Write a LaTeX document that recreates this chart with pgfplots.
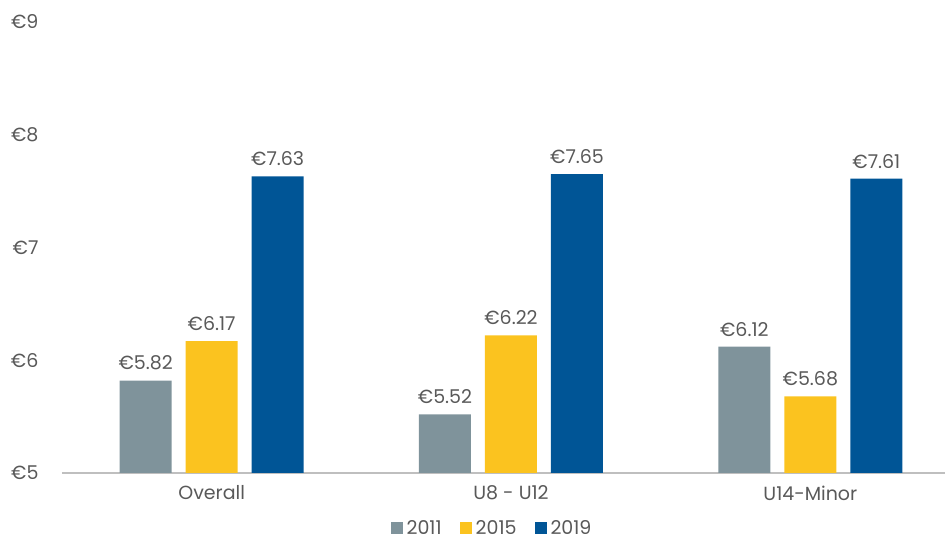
\documentclass[border=0pt]{standalone}
\usepackage{fontspec}
\setmainfont{Poppins}
\usepackage{pgfplots}
\pgfplotsset{compat=1.18}
\usetikzlibrary{calc}
\definecolor{cGray}{HTML}{7F939B}
\definecolor{cYellow}{HTML}{FBC31F}
\definecolor{cBlue}{HTML}{005596}
\definecolor{cText}{HTML}{595959}
\definecolor{cAxis}{HTML}{BFBFBF}
\begin{document}
\begin{tikzpicture}
\begin{axis}[
  name=ax, scale only axis, width=883pt, height=451pt,
  ybar=14pt, bar width=52pt,
  xmin=-0.5, xmax=2.45, ymin=5, ymax=9,
  xtick={0,1,2}, xticklabels={Overall,U8 - U12,U14-Minor},
  ytick={5,6,7,8,9},
  /pgf/number format/assume math mode=true,
  yticklabel={€\pgfmathprintnumber{\tick}},
  tick style={draw=none},
  axis x line*=bottom, axis y line*=left,
  x axis line style={draw=cAxis, line width=1.6pt, -},
  y axis line style={draw=none},
  ticklabel style={font=\fontsize{19}{21}\selectfont, text=cText},
  xticklabel style={yshift=-5pt},
  yticklabel style={xshift=-20pt},
  clip=false,
  nodes near coords={€\pgfmathprintnumber[fixed,precision=2,fixed zerofill]{\pgfplotspointmeta}},
  every node near coord/.append style={font=\fontsize{19}{21}\selectfont, text=cText, yshift=7pt},
  legend style={at={(0.487,-0.122)}, anchor=center, legend columns=3, draw=none,
    font=\fontsize{19}{21}\selectfont, text=cText, inner sep=0pt,
    /tikz/every odd column/.append style={column sep=2pt},
    /tikz/every even column/.append style={column sep=16pt}},
  legend image code/.code={\fill[#1] (0pt,-6pt) rectangle (12pt,6pt);},
]
\addplot[fill=cGray, draw=none] coordinates {(0,5.82) (1,5.52) (2,6.12)};
\addplot[fill=cYellow, draw=none] coordinates {(0,6.17) (1,6.22) (2,5.68)};
\addplot[fill=cBlue, draw=none] coordinates {(0,7.63) (1,7.65) (2,7.61)};
\legend{2011,2015,2019}
\end{axis}
\pgfresetboundingbox
\path ($(ax.south west)+(-62pt,-69pt)$) rectangle ($(ax.north east)+(0pt,22pt)$);
\end{tikzpicture}
\end{document}
